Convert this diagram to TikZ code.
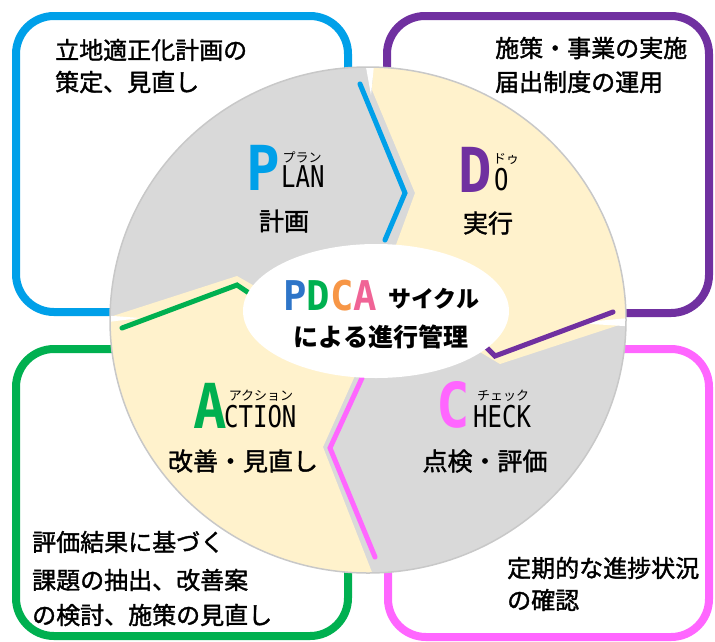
\documentclass[tikz,border=0pt]{standalone}
\usepackage{fontspec}
\usepackage{graphicx}
\newfontfamily\jpr{Noto Sans CJK JP}
\newfontfamily\jpm[FakeBold=1.5]{Noto Sans CJK JP}
\newfontfamily\condn[FakeStretch=0.8]{DejaVu Sans Mono}
\newfontfamily\condw[FakeStretch=0.9]{DejaVu Sans Mono}
\newfontfamily\pdcaf[FakeStretch=0.95]{DejaVu Sans Mono}
\definecolor{cblue}{RGB}{0,160,233}
\definecolor{cpurple}{RGB}{112,48,160}
\definecolor{cgreen}{RGB}{0,176,80}
\definecolor{cpink}{RGB}{255,102,255}
\definecolor{cgray}{RGB}{217,217,217}
\definecolor{cyellow}{RGB}{255,242,204}
\definecolor{cedge}{RGB}{200,200,200}
\definecolor{pP}{RGB}{46,117,200}
\definecolor{pD}{RGB}{0,176,80}
\definecolor{pC}{RGB}{247,150,70}
\definecolor{pA}{RGB}{240,100,150}
\tikzset{
  frame/.style={line width=8pt, rounded corners=38pt},
  cycline/.style={line width=5pt, line cap=round, line join=miter},
  boxtxt/.style={anchor=west, inner sep=0pt, font=\jpm\fontsize{24}{24}\selectfont},
  lbl/.style={inner sep=0pt, font=\jpm\fontsize{25}{25}\selectfont},
  ruby/.style={inner sep=0pt, font=\jpr\fontsize{13}{13}\selectfont},
  bigletter/.style={anchor=base west, inner sep=0pt, font=\condw\bfseries\fontsize{62}{62}\selectfont},
  restletters/.style={anchor=base west, inner sep=0pt, font=\condn\fontsize{30}{30}\selectfont},
  ctr/.style={inner sep=0pt, font=\jpr\bfseries\fontsize{25}{25}\selectfont},
}
\begin{document}
\begin{tikzpicture}[x=1pt,y=-1pt]
\useasboundingbox (0,0) rectangle (715,641);
% frames
\draw[frame, cblue] (16,16) rectangle (348,312);
\draw[frame, cpurple] (387,16) rectangle (709,313);
\draw[frame, cgreen] (16,349) rectangle (348,636);
\draw[frame, cpink] (388,349) rectangle (709,637);
% circle
\begin{scope}
  \clip (368,320) ellipse [x radius=258pt, y radius=253pt];
  \fill[cgray] (0,0) rectangle (715,641);
  \fill[cyellow] (393,253) -- (415,193) -- (372,90) -- (374,40) -- (720,20) -- (720,292) -- (500,364) -- (480,352) -- cycle;
  \fill[cyellow] (265,292) -- (237,276) -- (60,333) -- (60,700) -- (422,700) -- (323,447) -- (358,369) -- cycle;
  \fill[white] (371,95) -- (362,45) -- (376,45) -- cycle;
  \fill[white] (575,323) -- (640,317) -- (640,327) -- cycle;
  \fill[white] (140,318) -- (100,315) -- (100,323) -- cycle;
  \draw[cycline, cblue] (360,84) -- (405,193) -- (385,240);
  \draw[cycline, cpurple] (613,312) -- (495,356) -- (485,346);
  \draw[cycline, cpink] (362,378) -- (330,448) -- (375,557);
  \draw[cycline, cgreen] (122,328) -- (237,285) -- (252,295);
\end{scope}
\draw[cedge, line width=1.5pt] (368,320) ellipse [x radius=258pt, y radius=253pt];
\fill[white] (376,311) ellipse [x radius=133pt, y radius=67pt];
% box texts
\node[boxtxt] (t1a) at (55,50) {立地適正化計画の};
\node[boxtxt] (t1b) at (55,82) {策定、見直し};
\node[boxtxt] (t2a) at (495,48) {施策・事業の実施};
\node[boxtxt] (t2b) at (495,82) {届出制度の運用};
\node[boxtxt] (t3a) at (32,542) {評価結果に基づく};
\node[boxtxt] (t3b) at (32,580) {課題の抽出、改善案};
\node[boxtxt] (t3c) at (32,615) {の検討、施策の見直し};
\node[boxtxt] (t4a) at (507,568) {定期的な進捗状況};
\node[boxtxt] (t4b) at (507,600) {の確認};
% PLAN
\node[bigletter, text=cblue] (pP) at (246,190) {P};
\node[restletters] (pL) at (281,187) {LAN};
\node[ruby] (pR) at (302,157) {プラン};
\node[lbl] (pJ) at (284,221) {計画};
% DO
\node[bigletter, text=cpurple] (dD) at (458,192) {D};
\node[restletters] (dO) at (494,190) {O};
\node[ruby] (dR) at (506,159) {ドゥ};
\node[lbl] (dJ) at (488,223) {実行};
% ACTION
\node[bigletter, text=cgreen] (aA) at (193,428) {A};
\node[restletters] (aC) at (224,427) {CTION};
\node[ruby] (aR) at (261,396) {アクション};
\node[lbl] (aJ) at (243,461) {改善・見直し};
% CHECK
\node[bigletter, text=cpink] (cC) at (436,427) {C};
\node[restletters] (cH) at (473,427) {HECK};
\node[ruby] (cR) at (503,396) {チェック};
\node[lbl] (cJ) at (485,461) {点検・評価};
% center
\node[anchor=base west, inner sep=0pt, font=\pdcaf\bfseries\fontsize{41}{41}\selectfont] (pdca) at (283,310) {\textcolor{pP}{P}\textcolor{pD}{D}\textcolor{pC}{C}\textcolor{pA}{A}};
\node[ctr, anchor=west, font=\jpr\bfseries\fontsize{23}{23}\selectfont] (cyc) at (388,299) {サイクル};
\node[ctr] (mgmt) at (381,337) {による進行管理};
\end{tikzpicture}
\end{document}
